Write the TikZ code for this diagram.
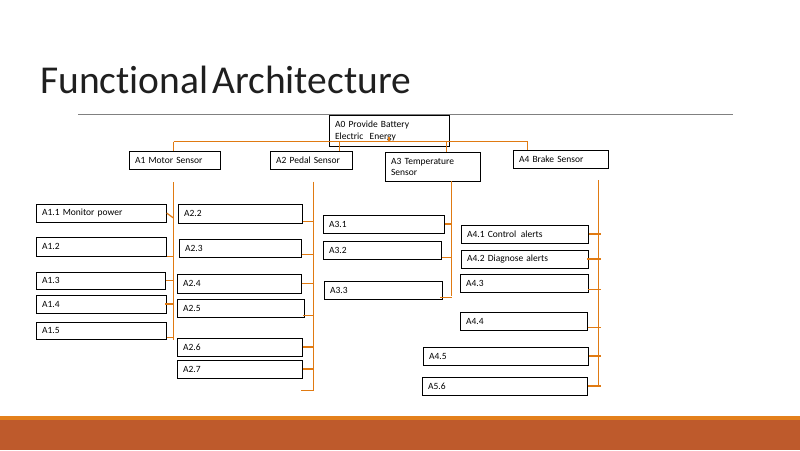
\documentclass[tikz,border=0pt]{standalone}
\usepackage{fontspec}
\setmainfont{Carlito}[Ligatures=NoCommon]
\definecolor{orangeline}{HTML}{E07A12}
\definecolor{bandorange}{HTML}{E3801C}
\definecolor{bandbrown}{HTML}{BE5A2C}
\definecolor{rulegray}{HTML}{808080}
\newcommand\mybox[6]{%
  \pgfmathsetmacro\mytw{#4-12}%
  \node[box, minimum height=#5pt, text width=\mytw pt] (#1) at (#2,#3) {#6};}
\begin{document}
\begin{tikzpicture}[x=1pt,y=-1pt,
  box/.style={draw=black, line width=1.15pt, anchor=north west, inner xsep=6pt,
    inner ysep=0pt, align=left, font=\fontsize{9.5}{11.5}\selectfont},
  conn/.style={draw=orangeline, line width=1.25pt},
  title/.style={anchor=base west, inner sep=0pt, text=black!88,
    font=\fontsize{39.5}{40}\selectfont}]
\useasboundingbox[fill=white] (0,0) rectangle (800,450);
% bottom bands
\fill[bandorange] (0,416) rectangle (800,420);
\fill[bandbrown] (0,420) rectangle (800,450);
% title and rule
\node[title] (title) at (40,93.3) {\spaceskip=4pt\relax Functional Architecture};
\coordinate (ruleL) at (78,114.5);
\coordinate (ruleR) at (733,114.5);
\draw[rulegray, line width=1pt] (ruleL) -- (ruleR);
% top level boxes
\mybox{a0}{328.5}{115}{120}{31.3}{A0 Provide Battery\\Electric\ \ Energy}
\mybox{a1}{128.5}{150.5}{91}{18}{A1 Motor Sensor}
\mybox{a2}{269.5}{150.5}{82}{18}{A2 Pedal Sensor}
\mybox{a3}{384.5}{151.5}{95}{29.5}{A3 Temperature\\Sensor}
\mybox{a4}{512.5}{149.5}{95}{18}{A4 Brake Sensor}
% A1 children
\mybox{a11}{35.5}{203.5}{130}{18}{A1.1 Monitor power}
\mybox{a12}{35.5}{236.5}{130}{19}{A1.2}
\mybox{a13}{35.5}{271.5}{129}{17.5}{A1.3}
\mybox{a14}{35.5}{294.5}{130}{18}{A1.4}
\mybox{a15}{35.5}{321.5}{130}{17.5}{A1.5}
% A2 children
\mybox{a22}{177.5}{203.5}{124}{19}{A2.2}
\mybox{a23}{178.5}{238.5}{122}{18}{A2.3}
\mybox{a24}{176.5}{273.5}{124}{19}{A2.4}
\mybox{a25}{176.5}{298.5}{127}{18}{A2.5}
\mybox{a26}{176.5}{337.5}{125}{18}{A2.6}
\mybox{a27}{176.5}{359.5}{125}{18}{A2.7}
% A3 children
\mybox{a31}{322.5}{214.5}{121}{18}{A3.1}
\mybox{a32}{322.5}{240.5}{118}{18}{A3.2}
\mybox{a33}{323.5}{280.5}{118}{18}{A3.3}
% A4 children
\mybox{a41}{460.5}{224.5}{127}{18}{A4.1 Control\hspace{1.5pt} alerts}
\mybox{a42}{460.5}{249.5}{127}{18}{A4.2 Diagnose alerts}
\mybox{a43}{459.5}{273.5}{128}{18}{A4.3}
\mybox{a44}{459.5}{311.5}{127}{18}{A4.4}
\mybox{a45}{422.5}{346.5}{165}{18}{A4.5}
\mybox{a56}{421.5}{376.5}{165}{18}{A5.6}
% bus from A0
\coordinate (busL) at (173.5,141.5);
\coordinate (busR) at (527.5,141.5);
\coordinate (d2) at (339.5,141.5);
\coordinate (d3) at (446.5,141.5);
\draw[conn] (busL) -- (busR);
\draw[conn] ([yshift=10.5pt]a0.south) -- (a0.south |- busL);
\draw[conn] (busL) -- (busL |- a1.north);
\draw[conn] (d2) -- (d2 |- a2.north);
\draw[conn] (d3) -- (d3 |- a3.north);
\draw[conn] (busR) -- (busR |- a4.north);
% A1 trunk
\coordinate (t1a) at (173.5,182);
\coordinate (t1b) at (173.5,340);
\coordinate (j11) at (173.5,218);
\draw[conn] (t1a) -- (t1b);
\draw[conn] (a11.east) -- (j11);
\draw[conn] (a12.south east) -- (a12.south east -| t1a);
\draw[conn] (a13.east) -- (a13.east -| t1a);
\draw[conn] ([xshift=-1.5pt]a14.east) -- (a14.east -| t1a);
\draw[conn] ([yshift=2.5pt]a15.south east) -- ([yshift=2.5pt]a15.south east -| t1a);
% A2 trunk
\coordinate (t2a) at (313.5,181.5);
\coordinate (t2b) at (313.5,390.5);
\coordinate (s2) at (300.5,390.5);
\draw[conn] (t2a) -- (t2b) -- (s2);
\draw[conn] ([yshift=2.5pt]a22.south east) -- ([yshift=2.5pt]a22.south east -| t2a);
\draw[conn] ([yshift=3.5pt]a23.south east) -- ([yshift=3.5pt]a23.south east -| t2a);
\draw[conn] (a24.east) -- (a24.east -| t2a);
\draw[conn] ([xshift=-1.6pt,yshift=2.5pt]a25.south east) -- ([yshift=2.5pt]a25.south east -| t2a);
\draw[conn] (a26.east) -- (a26.east -| t2a);
\draw[conn] (a27.east) -- (a27.east -| t2a);
% A3 trunk
\coordinate (t3a) at (451.5,181);
\coordinate (t3b) at (451.5,295.5);
\draw[conn] (t3a) -- (t3b);
\draw[conn] (a31.east) -- (a31.east -| t3a);
\draw[conn] ([yshift=2.5pt]a32.south east) -- ([yshift=2.5pt]a32.south east -| t3a);
\draw[conn] ([xshift=-2.4pt,yshift=2.5pt]a33.south east) -- ([yshift=2.5pt]a33.south east -| t3a);
% A4 trunk
\coordinate (t4a) at (598.5,180);
\coordinate (t4b) at (598.5,385.5);
\coordinate (t4e) at (600.5,180);
\draw[conn] (t4a) -- (t4b);
\draw[conn] (a41.east) -- (a41.east -| t4e);
\draw[conn] ([xshift=-1.3pt]a42.east) -- (a42.east -| t4e);
\draw[conn] ([xshift=-1pt,yshift=3pt]a43.south east) -- ([yshift=3pt]a43.south east -| t4e);
\draw[conn] ([yshift=3pt]a44.south east) -- ([yshift=3pt]a44.south east -| t4e);
\draw[conn] (a45.east) -- (a45.east -| t4e);
\draw[conn] (a56.east) -- (a56.east -| t4e);
\end{tikzpicture}
\end{document}
